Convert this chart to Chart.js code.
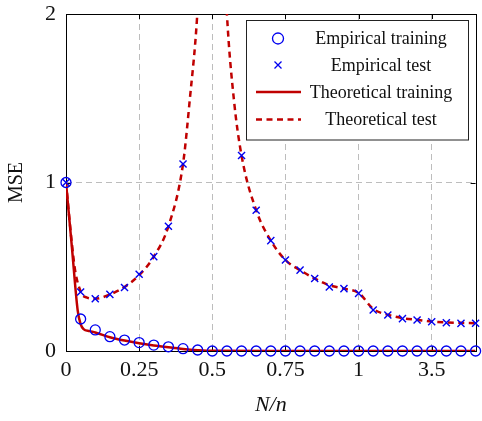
<!DOCTYPE html>
<html><head><meta charset="utf-8">
<script src="https://cdn.jsdelivr.net/npm/chart.js@4/dist/chart.umd.min.js"></script>
<style>html,body{margin:0;padding:0;background:#fff;}</style>
</head><body>
<canvas id="c" width="482" height="421" style="display:block;width:482px;height:421px"></canvas>
<script>
// ---- data ----
const xEmpirical = [0,0.05,0.1,0.15,0.2,0.25,0.3,0.35,0.4,0.45,0.5,0.55,0.6,0.65,0.7,0.75,0.8,0.85,0.9,0.95,1.0,1.05,1.1,1.15,1.2,1.25,1.3,1.35,1.4];
const trainEmpirical = [1.0,0.19,0.125,0.085,0.065,0.05,0.035,0.025,0.014,0.006,0,0,0,0,0,0,0,0,0,0,0,0,0,0,0,0,0,0,0];
const testEmpirical = [1.0,0.35,0.31,0.336,0.377,0.455,0.56,0.74,1.11,null,null,null,1.16,0.835,0.655,0.54,0.48,0.43,0.38,0.37,0.342,0.243,0.214,0.192,0.184,0.174,0.168,0.164,0.165];
const xTheoTrain = [0,0.02,0.04,0.05,0.06,0.08,0.1,0.15,0.2,0.25,0.3,0.35,0.4,0.45,0.5,0.75,1.0,1.25,1.4];
const trainTheory = [1.0,0.62,0.24,0.16,0.13,0.118,0.11,0.082,0.062,0.046,0.033,0.022,0.012,0.005,0.001,0,0,0,0];
const xTheoTest = [0,0.02,0.031,0.053,0.07,0.1,0.15,0.2,0.25,0.3,0.35,0.4,0.423,0.448,0.46,0.5,0.54,0.55,0.574,0.6,0.65,0.7,0.75,0.8,0.85,0.9,0.95,1.0,1.05,1.1,1.15,1.2,1.25,1.3,1.35,1.4];
const testTheory = [1.0,0.64,0.48,0.342,0.318,0.31,0.335,0.38,0.45,0.56,0.74,1.11,1.49,1.98,2.4,null,2.4,2.0,1.49,1.16,0.835,0.655,0.54,0.48,0.43,0.39,0.37,0.345,0.25,0.215,0.195,0.185,0.175,0.17,0.167,0.165];
const xTickValues = [0,0.25,0.5,0.75,1,1.25];
const xTickLabels = ['0','0.25','0.5','0.75','1','3.5'];
const yTickValues = [0,1,2];
const yTickLabels = ['0','1','2'];
const seriesLabels = ['Empirical training','Empirical test','Theoretical training','Theoretical test'];
const axisTitles = {x:'N/n', y:'MSE'};

const BLUE = '#0000f0';
const RED = '#c00000';
const FONT = "'Liberation Serif', 'Times New Roman', serif";

const pts = (xs, ys) => xs.map((x,i)=>({x, y: ys[i]}));

const framePlugin = {
  id:'frame',
  beforeDatasetsDraw(chart){
    const {ctx, chartArea:a, scales:{x,y}} = chart;
    ctx.save();
    ctx.strokeStyle = '#000'; ctx.lineWidth = 1;
    ctx.beginPath();
    xTickValues.forEach(v=>{
      const px = Math.round(x.getPixelForValue(v))+0.5;
      ctx.moveTo(px,a.bottom); ctx.lineTo(px,a.bottom-5);
      ctx.moveTo(px,a.top); ctx.lineTo(px,a.top+5);
    });
    yTickValues.forEach(v=>{
      const py = Math.round(y.getPixelForValue(v))+0.5;
      ctx.moveTo(a.left,py); ctx.lineTo(a.left+5,py);
      ctx.moveTo(a.right,py); ctx.lineTo(a.right-5,py);
    });
    ctx.stroke();
    ctx.strokeRect(Math.round(a.left)+0.5, Math.round(a.top)+0.5, Math.round(a.right-a.left), Math.round(a.bottom-a.top));
    ctx.restore();
  }
};

const legendPlugin = {
  id:'boxLegend',
  afterDraw(chart){
    const ctx = chart.ctx;
    const bx = 246.5, by = 20.5, bw = 222, bh = 119.5;
    const rows = [38.5, 65, 92, 119.5];
    const symX = 278, lineX0 = 256, lineX1 = 301, textX = 381;
    ctx.save();
    ctx.fillStyle = '#fff';
    ctx.fillRect(bx,by,bw,bh);
    ctx.strokeStyle = '#222'; ctx.lineWidth = 1;
    ctx.strokeRect(bx,by,bw,bh);
    chart.data.datasets.forEach((ds,i)=>{
      const yy = rows[i];
      ctx.save();
      if (i===0){
        ctx.strokeStyle = BLUE; ctx.lineWidth = 1.3;
        ctx.beginPath(); ctx.arc(symX, yy, 5.5, 0, Math.PI*2); ctx.stroke();
      } else if (i===1){
        ctx.strokeStyle = BLUE; ctx.lineWidth = 1.3;
        ctx.beginPath();
        ctx.moveTo(symX-3.5,yy-3.5); ctx.lineTo(symX+3.5,yy+3.5);
        ctx.moveTo(symX-3.5,yy+3.5); ctx.lineTo(symX+3.5,yy-3.5);
        ctx.stroke();
      } else {
        ctx.strokeStyle = RED; ctx.lineWidth = 2.5;
        if (i===3) ctx.setLineDash([6,4.5]);
        ctx.beginPath(); ctx.moveTo(lineX0,yy); ctx.lineTo(lineX1,yy); ctx.stroke();
      }
      ctx.restore();
      ctx.fillStyle = '#111';
      ctx.font = '18px ' + FONT;
      ctx.textAlign = 'center'; ctx.textBaseline = 'middle';
      ctx.fillText(ds.label, textX, yy+1);
    });
    ctx.restore();
  }
};

new Chart(document.getElementById('c'), {
  type:'scatter',
  data:{
    datasets:[
      {label:seriesLabels[0], data:pts(xEmpirical,trainEmpirical), pointStyle:'circle', pointRadius:5, pointHoverRadius:5,
       borderColor:BLUE, backgroundColor:'rgba(0,0,0,0)', pointBorderWidth:1.3, borderWidth:1.3, showLine:false, clip:false, order:0},
      {label:seriesLabels[1], data:pts(xEmpirical,testEmpirical), pointStyle:'crossRot', pointRadius:5, pointHoverRadius:5,
       borderColor:BLUE, backgroundColor:BLUE, pointBorderWidth:1.4, borderWidth:1.4, showLine:false, clip:false, order:0},
      {label:seriesLabels[2], data:pts(xTheoTrain,trainTheory), showLine:true, pointRadius:0, borderColor:RED, borderWidth:2.5,
       cubicInterpolationMode:'monotone', order:1},
      {label:seriesLabels[3], data:pts(xTheoTest,testTheory), showLine:true, pointRadius:0, borderColor:RED, borderWidth:2.5,
       borderDash:[6,4.5], cubicInterpolationMode:'monotone', spanGaps:false, order:1}
    ]
  },
  options:{
    responsive:false, animation:false, devicePixelRatio:1,
    layout:{padding:{top:14,right:6,left:0,bottom:0}},
    plugins:{legend:{display:false}, tooltip:{enabled:false}},
    scales:{
      x:{type:'linear', min:0, max:1.4,
        afterBuildTicks(s){ s.ticks = xTickValues.map(v=>({value:v})); },
        afterFit(s){ s.height = 70; s.paddingLeft = 0; s.paddingRight = 0; },
        ticks:{ callback:(v)=>{ const i = xTickValues.indexOf(v); return i>=0 ? xTickLabels[i] : ''; },
          font:{family:FONT, size:22}, color:'#111', padding:6, maxRotation:0, autoSkip:false },
        grid:{ drawTicks:false, color:(c)=> (c.tick && c.tick.value===0) ? 'rgba(0,0,0,0)' : '#bdbdbd', lineWidth:1 },
        border:{display:false, dash:[6,4]},
        title:{display:true, text:axisTitles.x, font:{family:FONT, size:22, style:'italic'}, color:'#111', padding:{top:0,bottom:3}}
      },
      y:{type:'linear', min:0, max:2,
        afterBuildTicks(s){ s.ticks = yTickValues.map(v=>({value:v})); },
        afterFit(s){ s.width = 66; s.paddingTop = 0; s.paddingBottom = 0; },
        ticks:{ callback:(v)=>{ const i = yTickValues.indexOf(v); return i>=0 ? yTickLabels[i] : ''; },
          font:{family:FONT, size:22}, color:'#111', padding:10 },
        grid:{ drawTicks:false, color:(c)=> (c.tick && c.tick.value===1) ? '#bdbdbd' : 'rgba(0,0,0,0)', lineWidth:1 },
        border:{display:false, dash:[6,4]},
        title:{display:true, text:axisTitles.y, font:{family:FONT, size:20}, color:'#111', padding:{top:5,bottom:0}}
      }
    }
  },
  plugins:[framePlugin, legendPlugin]
});
</script>
</body></html>
